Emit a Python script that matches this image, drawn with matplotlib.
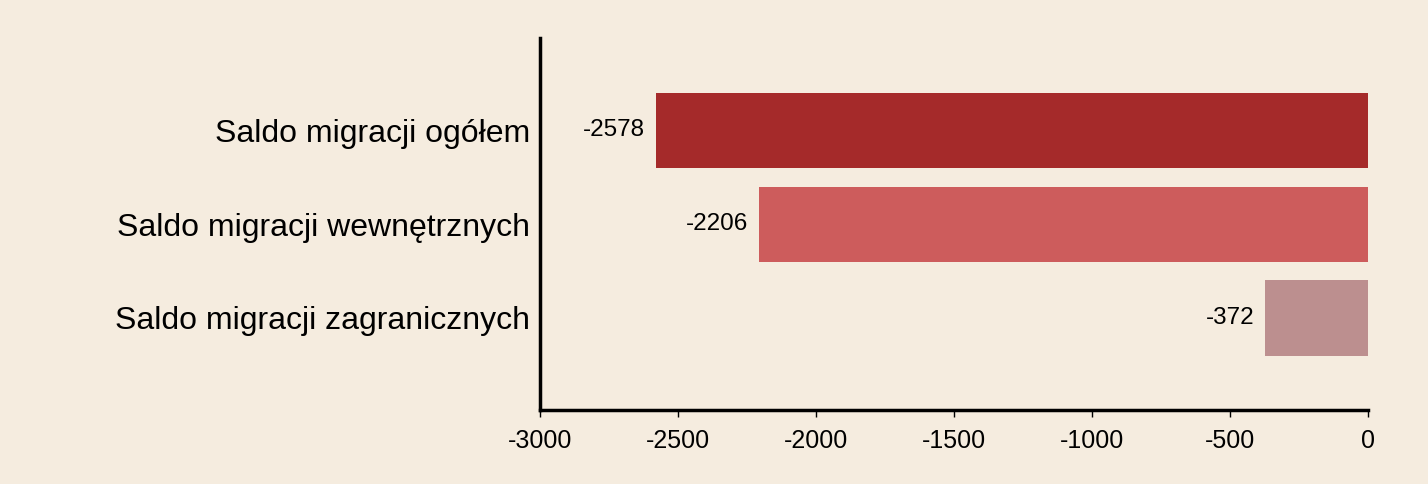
import numpy as np
import matplotlib.pyplot as plt

plt.rcParams['font.family'] = ['Liberation Sans', 'DejaVu Sans']

categories = ["Saldo migracji ogółem", "Saldo migracji wewnętrznych", "Saldo migracji zagranicznych"]
values = [-2578, -2206, -372]
colors = ["#A52A2A", "#CD5C5C", "#BC8F8F"]
xticks = [-3000, -2500, -2000, -1500, -1000, -500, 0]

bg = "#F5ECDF"


def main():
    fig = plt.figure(figsize=(14.28, 4.84), dpi=100, facecolor=bg)
    ax = fig.add_axes([0.378, 0.153, 0.580, 0.768])
    ax.set_facecolor(bg)

    y = np.arange(len(categories))
    ax.barh(y, values, height=0.8, color=colors)
    for yi, v in zip(y, values):
        ax.text(v - 40, yi, str(v), ha='right', va='center', fontsize=17.5)

    ax.set_xlim(-3000, 0)
    ax.set_ylim(len(categories) - 0.02, -0.98)
    ax.set_yticks(y)
    ax.set_yticklabels(categories, fontsize=23)
    ax.set_xticks(xticks)
    ax.set_xticklabels([str(t) for t in xticks], fontsize=18)

    ax.tick_params(axis='y', length=0, pad=7)
    ax.tick_params(axis='x', length=5, width=1, pad=9)
    for s in ['top', 'right']:
        ax.spines[s].set_visible(False)
    ax.spines['left'].set_linewidth(2.5)
    ax.spines['bottom'].set_linewidth(2.5)

    fig.savefig('out.png', dpi=100, facecolor=bg)
    plt.close()


if __name__ == '__main__':
    main()
